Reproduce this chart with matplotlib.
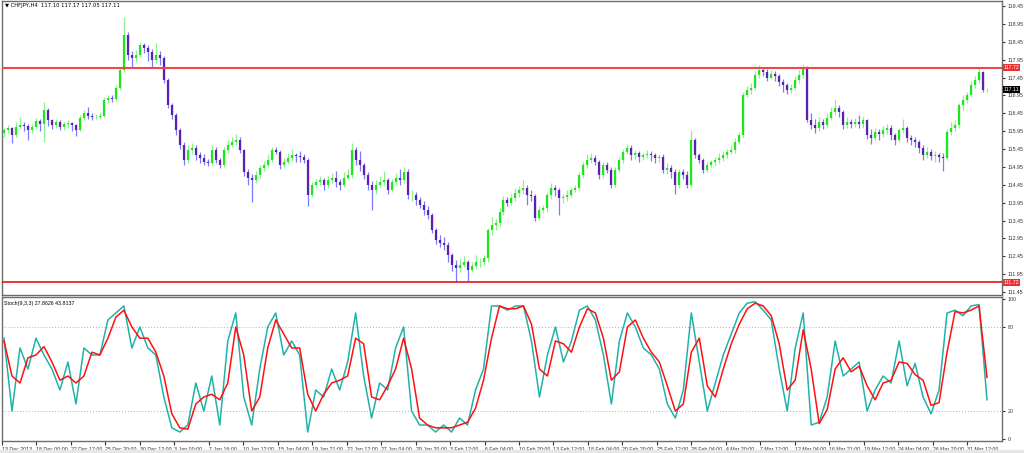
import numpy as np
import matplotlib.pyplot as plt
from matplotlib.patches import Rectangle

# ── CHFJPY H4 candles (open = previous close) ───────────────────────────────
first_open = 115.90
close = [115.98,116.04,115.84,116.07,116.12,116.10,115.98,116.07,116.23,116.15,116.54,116.26,
         116.12,116.21,116.07,116.15,116.18,116.12,115.98,116.32,116.46,116.38,116.35,116.35,116.38,116.82,116.88,116.85,117.16,117.66,
         118.64,118.08,118.00,118.08,118.36,118.28,118.17,117.94,118.08,118.00,117.38,116.68,
         116.40,115.98,115.56,115.14,115.42,115.48,115.28,115.20,115.09,115.06,115.42,115.14,115.00,115.42,115.56,115.65,115.70,115.42,114.81,114.64,
         114.58,114.72,114.92,115.00,115.14,115.42,115.37,115.00,115.09,115.20,115.28,115.25,115.23,115.14,
         114.16,114.44,114.53,114.58,114.44,114.58,114.64,114.53,114.44,114.64,114.72,115.42,
         115.14,115.00,114.72,114.44,114.30,114.44,114.53,114.58,114.30,114.53,114.64,114.58,114.81,114.16,114.16,114.02,
         113.88,113.74,113.60,113.18,112.90,112.82,112.77,112.49,112.21,112.12,112.21,112.29,112.07,112.18,112.29,112.29,112.40,113.18,113.32,113.38,113.69,
         114.02,113.94,114.08,114.21,114.30,114.36,114.16,114.13,113.52,113.74,113.80,114.16,114.36,114.30,114.08,114.10,114.16,114.30,114.36,114.72,115.00,
         115.14,115.20,115.09,114.72,115.00,114.86,114.44,114.86,115.14,115.37,115.48,115.28,115.34,115.23,115.28,115.31,115.28,115.20,115.23,114.86,114.92,
         114.81,114.44,114.81,114.72,114.44,115.70,115.28,115.14,114.86,115.00,115.09,115.14,115.20,115.28,115.37,115.42,115.65,115.84,116.96,
         117.10,117.16,117.52,117.66,117.60,117.44,117.55,117.49,117.32,117.24,117.10,117.16,117.38,117.52,117.72,116.26,
         116.12,116.04,116.21,116.12,116.32,116.49,116.60,116.49,116.12,116.21,116.15,116.21,116.15,116.26,115.84,115.76,115.93,115.87,115.98,116.04,115.84,115.70,115.98,116.04,
         115.76,115.70,115.65,115.48,115.28,115.37,115.26,115.28,115.23,115.20,115.93,116.04,116.12,116.68,116.82,116.96,117.24,117.38,117.60,117.10,117.11]
high = [116.05,116.12,116.08,116.20,116.35,116.20,116.15,116.15,116.32,116.30,116.76,116.60,
        116.30,116.28,116.25,116.22,116.25,116.22,116.15,116.40,116.55,116.62,116.45,116.42,116.45,116.90,116.95,116.95,117.25,117.72,
        119.14,118.72,118.20,118.22,118.45,118.42,118.35,118.25,118.42,118.20,118.05,117.45,
        116.75,116.45,116.05,115.65,115.55,115.62,115.55,115.38,115.30,115.18,115.55,115.50,115.20,115.50,115.70,115.80,115.88,115.78,115.45,114.90,
        114.75,114.85,115.00,115.12,115.30,115.52,115.50,115.42,115.20,115.35,115.45,115.35,115.40,115.30,
        115.20,114.52,114.62,114.70,114.65,114.70,114.78,114.85,114.62,114.80,114.90,115.62,
        115.50,115.40,115.05,114.80,114.55,114.58,114.70,114.85,114.65,114.62,114.78,114.90,114.95,114.88,114.30,114.25,
        114.10,114.00,113.85,113.65,113.25,113.05,113.00,112.85,112.55,112.35,112.40,112.45,112.35,112.30,112.48,112.40,112.50,113.25,113.55,113.50,113.80,
        114.15,114.10,114.20,114.35,114.42,114.58,114.45,114.30,114.20,113.85,113.90,114.25,114.50,114.45,114.35,114.20,114.30,114.40,114.45,114.80,115.08,
        115.30,115.35,115.28,115.15,115.08,115.10,114.95,114.95,115.22,115.45,115.60,115.55,115.42,115.40,115.35,115.42,115.40,115.35,115.32,115.30,115.05,
        115.00,114.90,114.90,114.90,114.85,115.98,115.75,115.35,115.20,115.08,115.15,115.22,115.35,115.40,115.45,115.55,115.75,115.92,117.05,
        117.20,117.30,117.62,117.80,117.72,117.68,117.65,117.62,117.55,117.40,117.30,117.28,117.50,117.65,117.80,117.78,
        116.45,116.30,116.35,116.30,116.45,116.62,116.82,116.68,116.55,116.35,116.30,116.32,116.40,116.38,116.30,116.00,116.05,116.02,116.10,116.15,116.12,115.90,116.05,116.30,
        116.10,115.85,115.80,115.70,115.55,115.50,115.45,115.40,115.35,115.35,116.00,116.20,116.25,116.75,116.95,117.05,117.35,117.50,117.75,117.62,117.17]
low = [115.80,115.90,115.62,115.78,116.00,115.95,115.70,115.90,116.00,115.95,115.65,116.10,
       116.00,116.05,115.98,115.98,116.05,115.95,115.82,115.95,116.25,116.30,116.25,116.28,116.30,116.35,116.75,116.78,116.80,117.10,
       117.60,117.95,117.72,117.90,118.02,118.15,117.90,117.72,117.85,117.80,117.30,116.60,
       116.30,115.85,115.45,115.00,115.05,115.30,115.15,115.05,115.00,114.98,115.00,115.05,114.92,114.95,115.35,115.50,115.55,115.35,114.70,114.45,
       113.98,114.50,114.65,114.85,114.95,115.10,115.30,114.90,114.95,115.02,115.12,115.10,115.08,115.05,
       113.85,114.10,114.40,114.45,114.30,114.35,114.50,114.38,114.30,114.40,114.60,114.65,
       115.00,114.85,114.60,114.30,113.75,114.20,114.40,114.45,114.20,114.25,114.45,114.45,114.50,114.05,114.00,113.90,
       113.80,113.62,113.50,113.10,112.80,112.70,112.62,112.30,112.05,111.72,112.00,112.15,111.75,112.00,112.10,112.15,112.20,112.30,113.05,113.18,113.30,
       113.62,113.85,113.88,114.00,114.12,114.20,113.90,114.00,113.45,113.48,113.65,113.70,114.05,114.15,113.60,113.95,114.00,114.10,114.25,114.30,114.65,
       114.92,115.05,115.00,114.60,114.65,114.78,114.35,114.40,114.80,115.05,115.30,115.15,115.18,115.10,115.15,115.20,115.12,115.05,115.10,114.78,114.75,
       114.65,114.20,114.35,114.60,114.35,114.40,115.20,115.05,114.78,114.80,114.95,115.00,115.05,115.12,115.20,115.30,115.35,115.60,115.80,
       116.90,117.00,117.10,117.45,117.48,117.35,117.40,117.35,117.20,117.05,117.00,117.02,117.10,117.30,117.45,116.20,
       116.00,115.90,115.95,116.00,116.05,116.25,116.40,116.35,116.00,116.05,116.05,116.08,116.05,116.05,115.72,115.60,115.70,115.70,115.80,115.88,115.70,115.55,115.65,115.90,
       115.65,115.55,115.50,115.35,115.15,115.20,115.15,115.10,115.10,114.85,115.15,115.85,115.95,116.05,116.55,116.75,116.90,117.15,117.30,117.05,117.05]

levels = [117.72, 111.72]
last_price = 117.11
price_ticks = [111.45,111.95,112.45,112.95,113.45,113.95,114.45,114.95,115.45,115.95,
               116.45,116.95,117.45,117.95,118.45,118.95,119.45]

# ── Stoch(9,3,3): %K and %D, one value every second candle ──────────────────
stoch_k = [72,20,65,50,72,60,50,35,55,25, 65,60,60,85,90,95,65,80,65,60,
           30,8,5,10,40,20,45,10,70,90, 30,10,50,80,90,60,70,60,5,35,
           30,50,35,55,90,45,15,40,35,65, 80,20,10,10,5,10,5,15,10,35,
           50,95,95,92,95,95,70,30,60,80, 55,70,92,95,85,60,25,70,90,80,
           65,60,50,25,15,35,90,55,20,40, 60,75,90,97,98,92,85,50,20,65,
           90,10,12,30,70,45,50,55,20,35, 45,40,70,38,54,30,18,35,90,92,
           88,95,96,28]
stoch_d = [70,45,40,58,60,66,55,42,45,40, 45,62,60,72,87,92,80,72,72,62,
           45,18,8,7,25,30,32,28,40,80, 60,20,30,65,85,75,65,65,32,20,
           32,40,42,45,72,68,30,28,38,50, 72,50,15,10,8,8,8,10,12,22,
           42,72,95,93,93,95,82,50,45,70, 68,62,80,93,90,72,42,48,80,85,
           72,62,55,38,20,25,62,72,38,30, 50,68,82,93,97,95,88,68,35,42,
           78,50,11,21,50,58,48,52,38,28, 40,42,55,54,46,42,24,26,62,91,
           90,92,95,44]

date_labels = ["13 Dec 2013","18 Dec 00:00","22 Dec 17:00","25 Dec 20:00","30 Dec 12:00","3 Jan 00:00",
               "7 Jan 16:00","10 Jan 12:00","15 Jan 04:00","19 Jan 21:00","22 Jan 12:00","27 Jan 04:00",
               "29 Jan 20:00","3 Feb 12:00","6 Feb 04:00","10 Feb 20:00","13 Feb 12:00","18 Feb 04:00",
               "20 Feb 20:00","25 Feb 12:00","28 Feb 04:00","4 Mar 20:00","7 Mar 12:00","12 Mar 04:00",
               "16 Mar 21:00","19 Mar 12:00","24 Mar 04:00","26 Mar 20:00","31 Mar 12:00"]

BULL_BODY, BULL_WICK = "#1ee61e", "#8cf08c"
BEAR_BODY, BEAR_WICK = "#5c1fae", "#7a7aff"
FRAME = "#6e6e6e"
FS = 3.8
plt.rcParams["font.family"] = ["Liberation Sans", "DejaVu Sans"]

W, H = 1024, 453
fig = plt.figure(figsize=(W / 100, H / 100), dpi=100)
fig.patches.append(Rectangle((0, 0), 1, 3 / H, transform=fig.transFigure, color="#e6e6e6", zorder=0))

ax = fig.add_axes([2 / W, 158 / H, 1000 / W, 294 / H])
ax2 = fig.add_axes([2 / W, 12 / H, 1000 / W, 144 / H], sharex=ax)

# ── candles ────────────────────────────────────────────────────────────────
c = np.array(close)
o = np.concatenate([[first_open], c[:-1]])
h, l = np.array(high), np.array(low)
x = np.arange(len(c))
up = c >= o
ax.vlines(x, l, h, colors=np.where(up, BULL_WICK, BEAR_WICK), lw=0.9, zorder=2)
lo_b = np.minimum(o, c)
hi_b = np.maximum(np.maximum(o, c), lo_b + 0.01)
ax.vlines(x, lo_b, hi_b, colors=np.where(up, BULL_BODY, BEAR_BODY), lw=1.6, zorder=3)

ax.axhline(levels[0], color="#f04848", lw=1.5, zorder=4)
ax.axhline(levels[1], color="#e81414", lw=1.2, zorder=4)

ax.set_xlim(-0.25, 249.75)
ax.set_ylim(111.37, 119.59)
ax.yaxis.tick_right()
ax.set_yticks(price_ticks)
ax.set_yticklabels([f"{p:.2f}" for p in price_ticks])
ax.tick_params(axis="y", labelsize=FS, length=2, pad=2, colors="#333333")
ax.tick_params(axis="x", bottom=False, labelbottom=False)

def price_tag(axis, value, bg):
    axis.annotate(f"{value:.2f}", xy=(1.0, value), xycoords=("axes fraction", "data"),
                  xytext=(1.2, 0), textcoords="offset points", va="center", ha="left",
                  fontsize=FS, color="white", annotation_clip=False,
                  bbox=dict(boxstyle="square,pad=0.2", fc=bg, ec="none"))

price_tag(ax, levels[0], "#f03030")
price_tag(ax, levels[1], "#f03030")
price_tag(ax, last_price, "#000000")

# ── stochastic pane ────────────────────────────────────────────────────────
xs = np.arange(len(stoch_k)) * 2
xd = np.arange(len(stoch_d)) * 2
ax2.plot(xs, stoch_k, color="#20b2aa", lw=1.1, zorder=3)
ax2.plot(xd, stoch_d, color="#ff1010", lw=1.1, zorder=4)
for lv in (20, 80):
    ax2.axhline(lv, color="#b0b0b0", lw=0.7, ls=(0, (1, 2)), zorder=1)
ax2.set_ylim(-1.4, 101.4)
ax2.yaxis.tick_right()
ax2.set_yticks([0, 20, 80, 100])
ax2.tick_params(axis="y", labelsize=FS, length=2, pad=2, colors="#333333")

ticks = -0.5 + 8.625 * np.arange(len(date_labels))
ax2.set_xticks(ticks)
ax2.set_xticklabels(date_labels)
ax2.tick_params(axis="x", labelsize=FS, length=3, pad=1, colors="#333333")
for t in ax2.get_xticklabels():
    t.set_ha("left")

for a in (ax, ax2):
    for s in a.spines.values():
        s.set_color(FRAME)
        s.set_linewidth(1.0)

fig.text(5 / W, 1 - 6 / H, "\u25bc CHFJPY,H4  117.10 117.17 117.05 117.11", fontsize=FS,
         va="center", ha="left", family=["DejaVu Sans"])
fig.text(4 / W, 1 - 303 / H, "Stoch(9,3,3) 27.8626 43.8137", fontsize=FS, va="center", ha="left")

fig.savefig("out.png", dpi=100, facecolor="white")
